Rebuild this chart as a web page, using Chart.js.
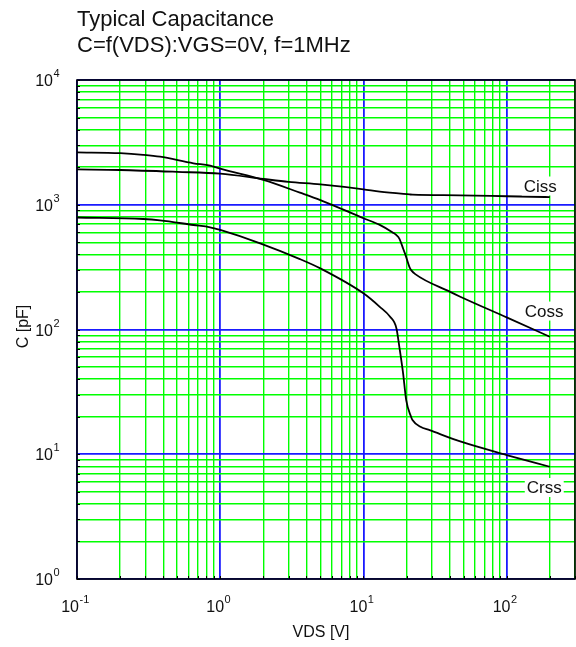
<!DOCTYPE html>
<html lang="en">
<head>
  <meta charset="UTF-8">
  <title>Typical Capacitance</title>
  <style>
    body { margin: 0; background: #ffffff; }
    .wrap { width: 576px; height: 647px; position: relative; }
  </style>
</head>
<body>
  <div class="wrap"><canvas id="capChart"></canvas></div>

  <script src="https://cdn.jsdelivr.net/npm/chart.js"></script>
  <script>
    // values (VDS in V, C in pF)
    const cissV = [0.1, 0.2, 0.5, 1, 2, 3, 5, 10, 13, 21, 22, 47, 100, 200];
    const cissC = [1920, 1900, 1835, 1775, 1610, 1525, 1455, 1330, 1273, 1210, 1205, 1190, 1170, 1152];

    const cossV = [0.1, 0.2, 0.29, 0.38, 0.65, 0.85, 1, 2, 3.6, 5, 10, 13, 16.1, 17, 17.8, 19, 19.6, 21, 21.6, 23, 40, 47, 100, 200];
    const cossC = [2630, 2590, 2515, 2430, 2150, 2060, 1945, 1580, 1250, 1090, 780, 690, 597, 570, 535, 440, 400, 315, 298, 278, 201, 184, 125, 87.5];

    const crssV = [0.1, 0.29, 0.38, 0.65, 0.85, 1, 1.9, 3.6, 5, 10, 13, 15.3, 17, 17.8, 18.9, 19.9, 21.5, 22, 25, 29, 48, 100, 200];
    const crssC = [790, 769, 750, 688, 660, 628, 491, 367, 309, 195, 152, 127, 102, 73, 45, 27, 20, 18.8, 16.6, 15.6, 12.6, 9.86, 7.94];

    const xDecades = [-1, 0, 1, 2];
    const yDecades = [0, 1, 2, 3, 4];
    const xMin = 0.1, xMax = 300;
    const yMin = 1, yMax = 10000;

    const seriesNames = ['Ciss', 'Coss', 'Crss'];
    const titleLines = ['Typical Capacitance', 'C=f(VDS):VGS=0V, f=1MHz'];
    const xTitle = 'VDS [V]';
    const yTitle = 'C [pF]';

    const FONT = '"Liberation Sans", Arial, sans-serif';
    const BLUE = '#1a1aff';
    const GREEN = '#00ff00';

    function pts(xs, ys) {
      return xs.map((x, i) => ({ x: x, y: ys[i] }));
    }

    function isDecade(v) {
      const l = Math.log10(v);
      return Math.abs(l - Math.round(l)) < 1e-9;
    }

    // 1..9 x 10^e for every decade, capped at max
    function logTicks(decades, max) {
      const out = [];
      decades.forEach(e => {
        for (let m = 1; m <= 9; m++) {
          const v = m * Math.pow(10, e);
          if (v <= max * 1.0001) out.push(v);
        }
      });
      return out;
    }

    const xTickVals = logTicks(xDecades, xMax);
    const yTickVals = logTicks(yDecades, yMax);

    function gridFor(vals) {
      return {
        drawTicks: false,
        color: vals.map(v => isDecade(v) ? BLUE : GREEN),
        lineWidth: vals.map(v => isDecade(v) ? 1.8 : 1.4)
      };
    }

    function drawPow(ctx, exp, x, y, mode) {
      const base = '10';
      const sup = String(exp);
      ctx.font = '16px ' + FONT;
      const w1 = ctx.measureText(base).width;
      ctx.font = '11px ' + FONT;
      const w2 = ctx.measureText(sup).width;
      const left = mode === 'right' ? x - w1 : x - (w1 + w2) / 2;
      ctx.textAlign = 'left';
      ctx.textBaseline = 'alphabetic';
      ctx.font = '16px ' + FONT;
      ctx.fillText(base, left, y);
      ctx.font = '11px ' + FONT;
      ctx.fillText(sup, left + w1 + 0.5, y - 9);
    }

    // labels next to the curve ends
    const curveLabels = [
      { text: seriesNames[0], v: 200, c: 1277, dx: -26 },
      { text: seriesNames[1], v: 200, c: 127, dx: -25 },
      { text: seriesNames[2], v: 200, c: 4.89, dx: -23 }
    ];

    const textPlugin = {
      id: 'textPlugin',
      afterDatasetsDraw(chart) {
        const ctx = chart.ctx;
        const xs = chart.scales.x, ys = chart.scales.y;
        ctx.save();
        ctx.font = '17px ' + FONT;
        ctx.textAlign = 'left';
        ctx.textBaseline = 'alphabetic';
        curveLabels.forEach(l => {
          const x = xs.getPixelForValue(l.v) + l.dx;
          const y = ys.getPixelForValue(l.c);
          const w = ctx.measureText(l.text).width;
          ctx.fillStyle = '#ffffff';
          ctx.fillRect(x - 2, y - 15, w + 4, 19);
          ctx.fillStyle = '#111111';
          ctx.fillText(l.text, x, y);
        });
        ctx.restore();
      },
      afterDraw(chart) {
        const ctx = chart.ctx;
        const a = chart.chartArea;
        const xs = chart.scales.x, ys = chart.scales.y;
        ctx.save();

        // tick stubs on left and bottom
        ctx.strokeStyle = '#000';
        ctx.lineWidth = 1;
        yTickVals.forEach(v => {
          const y = Math.round(ys.getPixelForValue(v)) + 0.5;
          ctx.beginPath(); ctx.moveTo(a.left, y); ctx.lineTo(a.left + 3, y); ctx.stroke();
        });
        xTickVals.forEach(v => {
          const x = Math.round(xs.getPixelForValue(v)) + 0.5;
          ctx.beginPath(); ctx.moveTo(x, a.bottom); ctx.lineTo(x, a.bottom - 3); ctx.stroke();
        });

        // frame
        ctx.lineWidth = 1.6;
        ctx.strokeRect(a.left, a.top, a.right - a.left, a.bottom - a.top);

        ctx.fillStyle = '#111111';
        yDecades.forEach(e => {
          const y = ys.getPixelForValue(Math.pow(10, e));
          drawPow(ctx, e, a.left - 24, y + 6, 'right');
        });
        xDecades.forEach(e => {
          const x = xs.getPixelForValue(Math.pow(10, e));
          drawPow(ctx, e, x - 2, a.bottom + 33, 'center');
        });

        // axis titles
        ctx.font = '16px ' + FONT;
        ctx.textAlign = 'center';
        ctx.textBaseline = 'alphabetic';
        ctx.fillText(xTitle, (a.left + a.right) / 2 - 5, a.bottom + 58);
        ctx.save();
        ctx.translate(28, (a.top + a.bottom) / 2 - 3);
        ctx.rotate(-Math.PI / 2);
        ctx.fillText(yTitle, 0, 0);
        ctx.restore();

        // chart title
        ctx.font = '22px ' + FONT;
        ctx.textAlign = 'left';
        titleLines.forEach((line, i) => {
          ctx.fillText(line, a.left, 26 + i * 25.7);
        });
        ctx.restore();
      }
    };

    const lineStyle = {
      borderColor: '#000000',
      borderWidth: 1.8,
      pointRadius: 0,
      fill: false,
      cubicInterpolationMode: 'monotone'
    };

    new Chart(document.getElementById('capChart'), {
      type: 'line',
      data: {
        datasets: [
          Object.assign({ label: seriesNames[0], data: pts(cissV, cissC) }, lineStyle),
          Object.assign({ label: seriesNames[1], data: pts(cossV, cossC) }, lineStyle),
          Object.assign({ label: seriesNames[2], data: pts(crssV, crssC) }, lineStyle)
        ]
      },
      options: {
        responsive: true,
        maintainAspectRatio: false,
        animation: false,
        layout: { padding: { left: 77, top: 80, right: 1, bottom: 68 } },
        plugins: {
          legend: { display: false },
          tooltip: { enabled: false },
          title: { display: false }
        },
        scales: {
          x: {
            type: 'logarithmic',
            min: xMin,
            max: xMax,
            afterBuildTicks: s => { s.ticks = xTickVals.map(v => ({ value: v })); },
            ticks: { display: false },
            grid: gridFor(xTickVals),
            border: { display: false }
          },
          y: {
            type: 'logarithmic',
            min: yMin,
            max: yMax,
            afterBuildTicks: s => { s.ticks = yTickVals.map(v => ({ value: v })); },
            ticks: { display: false },
            grid: gridFor(yTickVals),
            border: { display: false }
          }
        }
      },
      plugins: [textPlugin]
    });
  </script>
</body>
</html>
